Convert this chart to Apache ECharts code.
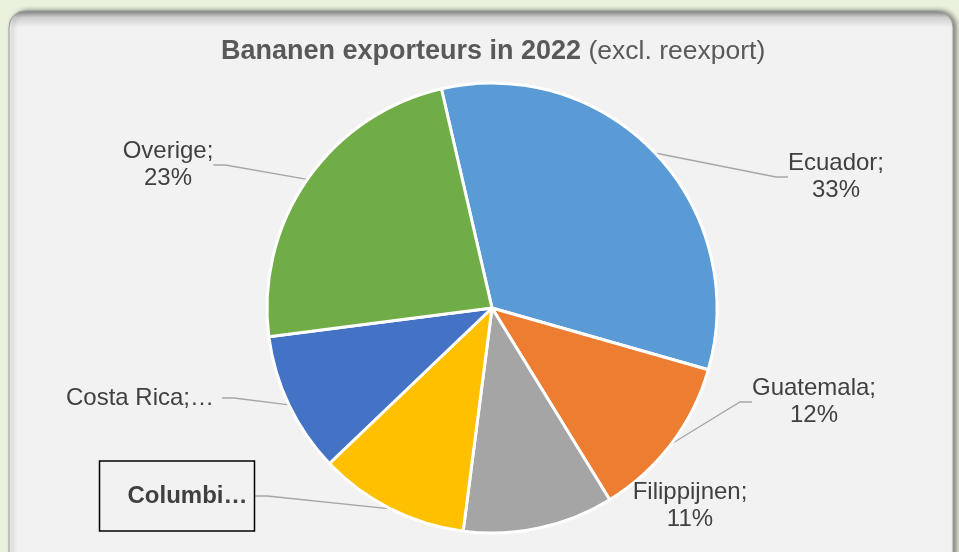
<!DOCTYPE html>
<html>
<head>
<meta charset="utf-8">
<script src="https://cdn.jsdelivr.net/npm/echarts@6/dist/echarts.min.js"></script>
<style>
  html, body { margin: 0; padding: 0; background: #EAF1DD; }
  #chart { width: 959px; height: 552px; }
</style>
</head>
<body>
<div id="chart"></div>
<script>
// share of banana exports 2022 (percent)
var countries = ['Ecuador', 'Guatemala', 'Filippijnen', 'Columbia', 'Costa Rica', 'Overige'];
var shares = [33.0, 11.8, 10.8, 10.8, 10.1, 23.4];
var sliceColors = ['#5B9BD5', '#ED7D31', '#A5A5A5', '#FFC000', '#4472C4', '#70AD47'];

// label block centres, as they were dragged in the original sheet
var labelSpots = [[836, 177], [814, 402], [690, 506], [177, 496], [140, 398], [168, 165]];

var font = 'Arial, "Liberation Sans", sans-serif';

var pieData = countries.map(function (name, i) {
  var item = { name: name, value: shares[i], itemStyle: { color: sliceColors[i] } };
  if (name === 'Filippijnen') {
    item.labelLine = { show: false };
  }
  if (name === 'Costa Rica') {
    // excel cut this one off
    item.label = { formatter: '{b};{d}%', width: 164, overflow: 'truncate', ellipsis: '…' };
  }
  if (name === 'Columbia') {
    item.label = {
      formatter: '{b}; {d}%', width: 124, overflow: 'truncate', ellipsis: '…',
      fontWeight: 'bold', borderColor: '#000', borderWidth: 1.5,
      padding: [22, 5, 21, 26]
    };
  }
  return item;
});

var option = {
  backgroundColor: '#EAF1DD',
  animation: false,
  graphic: [{
    type: 'rect',
    z: -10,
    shape: { x: 9, y: 11, width: 944, height: 570, r: 16 },
    style: {
      fill: {
        type: 'linear', x: 0, y: 0, x2: 0, y2: 1,
        colorStops: [
          { offset: 0, color: '#858585' },
          { offset: 0.012, color: '#cfcfcf' },
          { offset: 0.03, color: '#F2F2F2' },
          { offset: 1, color: '#F2F2F2' }
        ]
      },
      stroke: '#9c9c9c',
      lineWidth: 1,
      shadowColor: 'rgba(0,0,0,0.45)',
      shadowBlur: 5,
      shadowOffsetX: 3
    }
  }],
  title: {
    left: 216,
    top: 33,
    text: '{b|Bananen exporteurs in 2022} {n|(excl. reexport)}',
    textStyle: {
      fontFamily: font,
      fontSize: 26.5,
      fontWeight: 'normal',
      color: '#595959',
      rich: {
        b: { fontFamily: font, fontSize: 27, fontWeight: 'bold', color: '#595959' },
        n: { fontFamily: font, fontSize: 26.5, fontWeight: 'normal', color: '#595959' }
      }
    }
  },
  series: [{
    type: 'pie',
    center: [492, 308],
    radius: 225,
    startAngle: 103,
    clockwise: true,
    percentPrecision: 0,
    data: pieData,
    itemStyle: { borderColor: '#fff', borderWidth: 3 },
    label: {
      show: true,
      position: 'outside',
      formatter: '{b};\n{d}%',
      fontFamily: font,
      fontSize: 24,
      lineHeight: 27,
      color: '#404040',
      align: 'center'
    },
    labelLine: {
      show: true,
      length: 20,
      length2: 12,
      lineStyle: { color: '#A6A6A6', width: 1.3 }
    },
    labelLayout: function (params) {
      var p = labelSpots[params.dataIndex];
      return { x: p[0], y: p[1], align: 'center', verticalAlign: 'middle' };
    }
  }]
};

var myChart = echarts.init(document.getElementById('chart'));
myChart.setOption(option);
</script>
</body>
</html>
